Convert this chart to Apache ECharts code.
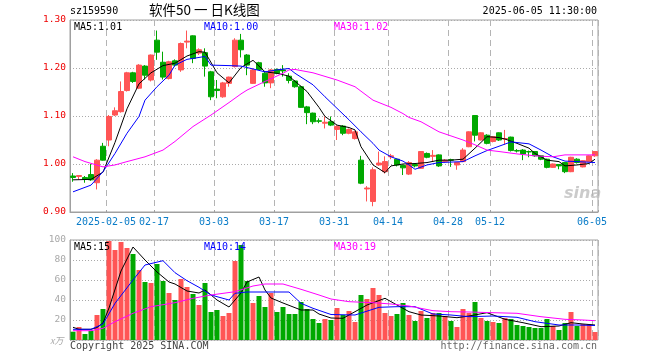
<!DOCTYPE html>
<html><head><meta charset="utf-8">
<script src="https://cdn.jsdelivr.net/npm/echarts@6/dist/echarts.min.js"></script>
<style>html,body{margin:0;padding:0;background:#fff}#c{width:660px;height:360px}</style>
</head><body><div id="c"></div>
<script>
const dates = ['2025-01-20','2025-01-21','2025-01-22','2025-01-23','2025-01-24','2025-01-27',
'2025-02-05','2025-02-06','2025-02-07','2025-02-10','2025-02-11','2025-02-12','2025-02-13','2025-02-14',
'2025-02-17','2025-02-18','2025-02-19','2025-02-20','2025-02-21','2025-02-24','2025-02-25','2025-02-26','2025-02-27','2025-02-28',
'2025-03-03','2025-03-04','2025-03-05','2025-03-06','2025-03-07','2025-03-10','2025-03-11','2025-03-12','2025-03-13','2025-03-14',
'2025-03-17','2025-03-18','2025-03-19','2025-03-20','2025-03-21','2025-03-24','2025-03-25','2025-03-26','2025-03-27','2025-03-28',
'2025-03-31','2025-04-01','2025-04-02','2025-04-03','2025-04-07','2025-04-08','2025-04-09','2025-04-10','2025-04-11',
'2025-04-14','2025-04-15','2025-04-16','2025-04-17','2025-04-18','2025-04-21','2025-04-22','2025-04-23','2025-04-24','2025-04-25',
'2025-04-28','2025-04-29','2025-04-30','2025-05-06','2025-05-07','2025-05-08','2025-05-09',
'2025-05-12','2025-05-13','2025-05-14','2025-05-15','2025-05-16','2025-05-19','2025-05-20','2025-05-21','2025-05-22','2025-05-23',
'2025-05-26','2025-05-27','2025-05-28','2025-05-29','2025-05-30','2025-06-03','2025-06-04','2025-06-05'];

const openP = [0.975,0.974,0.972,0.978,0.961,1.037,1.050,1.102,1.109,1.153,
1.190,1.158,1.204,1.175,1.258,1.212,1.178,1.215,1.196,1.254,
1.267,1.231,1.232,1.192,1.156,1.140,1.168,1.203,1.258,1.227,
1.168,1.211,1.189,1.169,1.197,1.196,1.183,1.173,1.161,1.119,
1.106,1.090,1.085,1.088,1.072,1.079,1.064,1.053,1.008,0.948,
0.922,0.998,0.984,1.015,1.010,0.997,0.979,0.999,0.991,1.022,
1.016,1.019,1.005,1.009,0.998,1.005,1.036,1.101,1.050,1.060,
1.047,1.065,1.052,1.056,1.028,1.029,1.026,1.026,1.017,1.010,
0.993,0.999,1.003,0.984,1.010,0.994,1.005,1.017];
const closeP = [0.972,0.976,0.968,0.967,1.008,1.008,1.099,1.111,1.151,1.190,
1.172,1.206,1.185,1.227,1.233,1.181,1.213,1.206,1.251,1.256,
1.220,1.238,1.204,1.140,1.153,1.169,1.181,1.258,1.238,1.206,
1.196,1.197,1.169,1.196,1.189,1.194,1.174,1.161,1.118,1.107,
1.088,1.089,1.087,1.081,1.078,1.064,1.072,1.067,0.960,0.950,
0.988,1.002,1.005,1.017,0.998,0.992,1.003,0.996,1.026,1.014,
1.018,0.996,1.008,1.008,1.003,1.029,1.067,1.060,1.065,1.043,
1.057,1.050,1.053,1.028,1.027,1.021,1.025,1.017,1.010,0.993,
1.000,0.996,0.984,1.014,1.003,1.007,1.017,1.026];
const lowP = [0.963,0.968,0.961,0.965,0.947,1.007,1.037,1.100,1.107,1.151,
1.169,1.156,1.176,1.172,1.217,1.176,1.176,1.203,1.192,1.241,
1.210,1.227,1.182,1.133,1.137,1.138,1.161,1.201,1.222,1.185,
1.167,1.196,1.161,1.158,1.187,1.182,1.168,1.159,1.117,1.083,
1.083,1.085,1.074,1.079,1.050,1.060,1.062,1.051,0.958,0.922,
0.912,0.996,0.980,1.010,0.995,0.977,0.977,0.993,0.990,1.012,
1.005,0.994,1.003,0.994,0.988,1.004,1.035,1.047,1.049,1.041,
1.045,1.048,1.040,1.026,1.024,1.008,1.014,1.015,1.008,0.991,
0.992,0.989,0.981,0.983,1.001,0.993,1.004,1.015];
const highP = [0.981,0.977,0.975,1.000,1.010,1.044,1.102,1.118,1.172,1.192,
1.192,1.208,1.206,1.228,1.278,1.234,1.215,1.218,1.253,1.278,
1.268,1.241,1.241,1.194,1.175,1.171,1.182,1.262,1.271,1.229,
1.199,1.213,1.192,1.198,1.199,1.206,1.189,1.175,1.163,1.121,
1.107,1.095,1.099,1.099,1.081,1.081,1.074,1.069,1.017,0.954,
0.993,1.026,1.016,1.021,1.011,0.999,1.006,1.001,1.027,1.024,
1.029,1.020,1.010,1.011,1.004,1.033,1.068,1.101,1.066,1.062,
1.058,1.066,1.071,1.057,1.031,1.031,1.028,1.027,1.018,1.011,
1.001,1.000,1.004,1.015,1.012,1.008,1.018,1.027];

const volume = [8.3,13,6,9.3,25,31,99,90,98,92,
86,70,58,57,76,59,47,40,61,53,
46,35,57,28,30,24,27,79,95,59,
37,44,33,47,28,33,26,26,38,31,
21,17,21,20,32,25,29,18,45,41,
52,45,27,24,26,37,25,19,29,22,
27,27,24,19,13,31,27,38,22,19,
18,17,22,21,15,14,13,12,12,21,
14,10,17,28,14,16,16,8];

// moving-average lines as [day index, value]
const priceMA5 = [[0,0.967],[3,0.968],[5,0.983],[7,1.045],[9,1.115],[11,1.167],[13,1.19],[15,1.205],[17,1.21],[19,1.225],[21,1.234],[22,1.233],[24,1.19],[26,1.169],[28,1.201],[30,1.216],[32,1.192],[34,1.189],[36,1.183],[39,1.151],[41,1.118],[42,1.099],[44,1.081],[46,1.076],[47,1.071],[48,1.036],[50,0.998],[52,0.982],[53,0.996],[55,1.0],[57,1.001],[59,1.003],[61,1.008],[63,1.008],[65,1.01],[67,1.033],[69,1.057],[71,1.055],[72,1.052],[74,1.043],[76,1.033],[77,1.022],[79,1.008],[81,1.005],[82,0.996],[84,0.998],[86,1.001],[87,1.01]];
const priceMA10 = [[0,0.942],[3,0.956],[5,0.984],[7,1.022],[9,1.064],[11,1.099],[12,1.133],[14,1.161],[16,1.185],[17,1.206],[19,1.218],[21,1.222],[22,1.224],[23,1.206],[26,1.205],[28,1.204],[32,1.192],[34,1.196],[36,1.199],[37,1.189],[40,1.165],[42,1.14],[44,1.116],[46,1.092],[48,1.067],[50,1.043],[51,1.029],[53,1.015],[55,1.006],[56,0.998],[57,0.989],[59,0.998],[61,1.003],[65,1.005],[67,1.017],[69,1.028],[71,1.037],[73,1.046],[76,1.042],[78,1.029],[80,1.015],[82,1.006],[84,1.005],[87,1.003]];
const priceMA30 = [[0,1.015],[2,1.005],[5,0.994],[7,0.998],[9,1.005],[12,1.015],[15,1.029],[17,1.047],[20,1.078],[23,1.102],[26,1.128],[28,1.146],[29,1.154],[32,1.172],[35,1.189],[36,1.196],[37,1.197],[40,1.19],[44,1.175],[47,1.161],[50,1.133],[53,1.118],[55,1.105],[56,1.097],[58,1.088],[61,1.067],[65,1.05],[67,1.04],[69,1.029],[71,1.026],[74,1.021],[77,1.017],[80,1.015],[82,1.019],[84,1.019],[87,1.019]];
const volMA5 = [[0,12.7],[1,10.7],[3,10.7],[4,12.5],[5,17],[6,32],[8,69],[10,93],[12,80],[14,68],[16,58],[17,56],[19,49],[21,47],[22,50],[24,40],[26,33],[28,47],[29,58],[31,63],[32,50],[33,42],[35,37],[38,30],[40,30],[41,26],[43,22],[45,21.7],[47,28.3],[49,35],[52,41.7],[54,35],[56,28.3],[58,25],[61,24],[64,22.3],[66,24],[69,27.3],[72,20.7],[75,17.3],[78,13.3],[81,14],[83,17.3],[85,16],[87,15]];
const volMA10 = [[0,10.7],[3,10.7],[5,16],[7,36.7],[10,60],[12,75],[15,79.3],[17,67.3],[19,59.3],[21,52.7],[23,45],[26,40],[27,46.7],[29,48],[32,48],[36,48],[38,36.7],[40,31.7],[43,25.5],[47,25],[51,32.7],[54,33.3],[57,33.3],[60,26],[63,25],[66,23.3],[70,24],[74,22.7],[77,18.3],[81,15],[84,15],[87,14.5]];
const volMA30 = [[0,9.3],[3,9.3],[5,11.7],[7,18.3],[10,26.7],[13,33.3],[17,37.3],[20,41.7],[23,45],[27,48.3],[30,54],[32,56],[35,56],[38,50.7],[41,45],[43,41],[46,38.3],[50,37.3],[53,36],[56,34],[60,29.3],[63,28.3],[66,28],[70,27.3],[74,26.7],[78,23.3],[82,20.7],[85,20],[87,19.3]];

const tickIdx = [6,14,24,34,44,53,63,70,87];
const tickText = ['2025-02-05','02-17','03-03','03-17','03-31','04-14','04-28','05-12','06-05'];
const maLegend = ['MA5:1.01','MA10:1.00','MA30:1.02'];
const volLegend = ['MA5:15','MA10:14','MA30:19'];

const RED = '#ff5555', GREEN = '#00a800';
const MONO = '"DejaVu Sans Mono", "Liberation Mono", monospace';
const candles = dates.map((d, i) => [openP[i], closeP[i], lowP[i], highP[i]]);
const isTick = (i) => tickIdx.indexOf(i) >= 0;

const chart = echarts.init(document.getElementById('c'), null, {renderer: 'canvas'});
const gridBorder = '#a0a0a0';
const dashV = {show: true, interval: (i) => isTick(i), lineStyle: {color: '#b4b4b4', type: [6, 4], width: 1}};
const dotH = {show: true, lineStyle: {color: '#aaaaaa', type: [1, 2], width: 1}};

const option = {
  animation: false,
  backgroundColor: '#fff',
  grid: [
    {left: 70, top: 20, width: 528, height: 192, show: true, borderColor: gridBorder, borderWidth: 1},
    {left: 70, top: 240, width: 528, height: 100, show: true, borderColor: gridBorder, borderWidth: 1}
  ],
  xAxis: [
    {type: 'category', gridIndex: 0, data: dates, boundaryGap: true,
     axisLine: {show: true, lineStyle: {color: gridBorder}},
     axisTick: {show: true, inside: true, length: 2, interval: (i) => isTick(i), lineStyle: {color: gridBorder}},
     axisLabel: {interval: (i) => isTick(i), formatter: (v, i) => tickText[tickIdx.indexOf(i)],
       color: '#0a7cc8', fontFamily: MONO, fontSize: 10, margin: 5, padding: [0, 6, 0, 0]},
     splitLine: dashV},
    {type: 'category', gridIndex: 1, data: dates, boundaryGap: true,
     axisLine: {show: false}, axisTick: {show: false}, axisLabel: {show: false},
     splitLine: dashV}
  ],
  yAxis: [
    {type: 'value', gridIndex: 0, min: 0.9, max: 1.3, interval: 0.1,
     axisLine: {show: true, lineStyle: {color: gridBorder}}, axisTick: {show: false},
     axisLabel: {color: '#ee0000', fontFamily: MONO, fontSize: 9.5, margin: 4, formatter: (v) => v.toFixed(2)},
     splitLine: dotH},
    {type: 'value', gridIndex: 1, min: 0, max: 100, interval: 20,
     axisLine: {show: true, lineStyle: {color: gridBorder}}, axisTick: {show: false},
     axisLabel: {color: '#a8a8a8', fontFamily: MONO, fontSize: 9.5, margin: 4, formatter: (v) => v === 0 ? '' : String(v)},
     splitLine: dotH}
  ],
  series: [
    {type: 'candlestick', xAxisIndex: 0, yAxisIndex: 0, data: candles, barWidth: 5,
     itemStyle: {color: RED, color0: GREEN, borderColor: RED, borderColor0: GREEN, borderWidth: 1}},
    {type: 'line', xAxisIndex: 0, yAxisIndex: 0, data: priceMA5, showSymbol: false, lineStyle: {color: '#000', width: 1}, z: 5},
    {type: 'line', xAxisIndex: 0, yAxisIndex: 0, data: priceMA10, showSymbol: false, lineStyle: {color: '#0000ff', width: 1}, z: 5},
    {type: 'line', xAxisIndex: 0, yAxisIndex: 0, data: priceMA30, showSymbol: false, lineStyle: {color: '#ff00ff', width: 1}, z: 5},
    {type: 'bar', xAxisIndex: 1, yAxisIndex: 1, data: volume, barWidth: 5,
     itemStyle: {color: (p) => closeP[p.dataIndex] >= openP[p.dataIndex] ? RED : GREEN}},
    {type: 'line', xAxisIndex: 1, yAxisIndex: 1, data: volMA5, showSymbol: false, lineStyle: {color: '#000', width: 1}, z: 5},
    {type: 'line', xAxisIndex: 1, yAxisIndex: 1, data: volMA10, showSymbol: false, lineStyle: {color: '#0000ff', width: 1}, z: 5},
    {type: 'line', xAxisIndex: 1, yAxisIndex: 1, data: volMA30, showSymbol: false, lineStyle: {color: '#ff00ff', width: 1}, z: 5}
  ],
  graphic: [
    {type: 'text', left: 70, top: 6, style: {text: 'sz159590', font: '10px ' + MONO, fill: '#000'}},
    {type: 'text', left: 149, top: 3, style: {text: '软件50 一 日K线图', font: '13.5px "Noto Sans CJK SC"', fill: '#000'}},
    {type: 'text', right: 63, top: 6, style: {text: '2025-06-05 11:30:00', font: '10px ' + MONO, fill: '#000'}},
    {type: 'text', left: 74, top: 22, z: 10, style: {text: maLegend[0], font: '10px ' + MONO, fill: '#000'}},
    {type: 'text', left: 204, top: 22, z: 10, style: {text: maLegend[1], font: '10px ' + MONO, fill: '#0000ff'}},
    {type: 'text', left: 334, top: 22, z: 10, style: {text: maLegend[2], font: '10px ' + MONO, fill: '#ff00ff'}},
    {type: 'text', left: 74, top: 242, z: 10, style: {text: volLegend[0], font: '10px ' + MONO, fill: '#000'}},
    {type: 'text', left: 204, top: 242, z: 10, style: {text: volLegend[1], font: '10px ' + MONO, fill: '#0000ff'}},
    {type: 'text', left: 334, top: 242, z: 10, style: {text: volLegend[2], font: '10px ' + MONO, fill: '#ff00ff'}},
    {type: 'text', left: 50, top: 336, style: {text: 'x万', font: 'italic 9px "Noto Sans CJK SC"', fill: '#aaaaaa'}},
    {type: 'text', left: 70, top: 341, style: {text: 'Copyright 2025 SINA.COM', font: '10px ' + MONO, fill: '#444'}},
    {type: 'text', right: 63, top: 341, style: {text: 'http://finance.sina.com.cn', font: '10px ' + MONO, fill: '#666'}},
    {type: 'text', left: 564, top: 186, z: 0, style: {text: 'sina', font: 'italic bold 16px "DejaVu Sans"', fill: 'rgba(190,190,190,0.8)'}}
  ]
};
chart.setOption(option);
</script></body></html>
